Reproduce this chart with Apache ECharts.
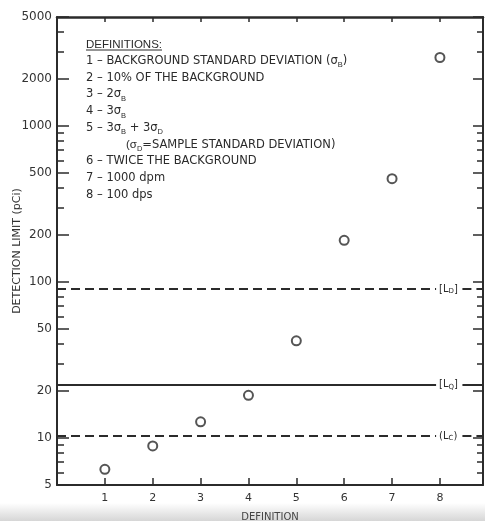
<!DOCTYPE html>
<html>
<head>
<meta charset="utf-8">
<script src="https://cdn.jsdelivr.net/npm/echarts@6/dist/echarts.min.js"></script>
<style>
  html, body { margin: 0; padding: 0; background: #fff; }
  #main { width: 485px; height: 521px; }
</style>
</head>
<body>
<div id="main"></div>
<script>
// values
var definitions = [1, 2, 3, 4, 5, 6, 7, 8];
var detectionLimits = [6.3, 8.9, 12.7, 18.8, 42, 185, 460, 2750];

// horizontal reference levels
var limitLevels = [90, 22, 10.3];
var limitNames = ['[L{s|D}]', '[L{s|Q}]', '(L{s|C})'];
var limitDashed = [true, false, true];

// axis ticks
var xTicks = [1, 2, 3, 4, 5, 6, 7, 8];
var yTickLabels = [5, 10, 20, 50, 100, 200, 500, 1000, 2000, 5000];
var yMinorTicks = [6, 7, 8, 9, 30, 40, 60, 70, 80, 90, 300, 400, 600, 700, 800, 900, 3000, 4000];

var definitionLines = [
    '{u|DEFINITIONS:}',
    '1 \u2013 BACKGROUND STANDARD DEVIATION (\u03c3{s|B})',
    '2 \u2013 10% OF THE BACKGROUND',
    '3 \u2013 2\u03c3{s|B}',
    '4 \u2013 3\u03c3{s|B}',
    '5 \u2013 3\u03c3{s|B} + 3\u03c3{s|D}',
    '{ind|(\u03c3}{s|D}=SAMPLE STANDARD DEVIATION)',
    '6 \u2013 TWICE THE BACKGROUND',
    '7 \u2013 1000 dpm',
    '8 \u2013 100 dps'
];

var ink = '#2b2b2b';
var font = '"DejaVu Sans", sans-serif';
var lg = function (v) { return Math.log10(v); };

var yMin = lg(5), yMax = lg(5000);
var xMin = 0, xMax = 8.9;
var lineStop = 7.92, lineResume = 8.47;

var chart = echarts.init(document.getElementById('main'));

var markData = [];
limitLevels.forEach(function (v, i) {
    var ls = { color: ink, width: 2, type: limitDashed[i] ? [9, 5] : 'solid' };
    markData.push([
        { coord: [xMin, lg(v)], lineStyle: ls,
          label: { show: true, position: 'end', distance: 3, formatter: limitNames[i],
                   color: ink, fontSize: 10, fontFamily: font,
                   rich: { s: { fontSize: 7, verticalAlign: 'bottom', color: ink, padding: [5, 0, 0, 0] } } } },
        { coord: [lineStop, lg(v)] }
    ]);
    markData.push([
        { coord: [lineResume, lg(v)], lineStyle: ls, label: { show: false } },
        { coord: [xMax, lg(v)] }
    ]);
});

function yAxisDef(pos, values, len, line) {
    return {
        type: 'value', position: pos, min: yMin, max: yMax,
        splitLine: { show: false },
        axisLine: { show: line, lineStyle: { color: ink, width: 2 } },
        axisTick: { show: true, inside: true, length: len, customValues: values.map(lg),
                    lineStyle: { color: ink, width: 1.5 } },
        axisLabel: { show: false }
    };
}

var leftMajor = yAxisDef('left', yTickLabels, 12, true);
leftMajor.axisLabel = {
    show: true, customValues: yTickLabels.map(lg), margin: 5,
    color: '#333', fontSize: 12, fontFamily: font,
    formatter: function (v) { return Math.round(Math.pow(10, v)); }
};
leftMajor.name = 'DETECTION LIMIT (pCi)';
leftMajor.nameLocation = 'middle';
leftMajor.nameGap = 34;
leftMajor.nameMoveOverlap = false;
leftMajor.nameTextStyle = { color: '#333', fontSize: 11, fontFamily: font };

var option = {
    backgroundColor: '#fff',
    animation: false,
    grid: { left: 57, right: 2, top: 17, bottom: 36, containLabel: false, outerBoundsMode: 'none' },
    xAxis: [{
        type: 'value', min: xMin, max: xMax, position: 'bottom',
        splitLine: { show: false },
        axisLine: { lineStyle: { color: ink, width: 2 } },
        axisTick: { inside: true, length: 7, customValues: xTicks, lineStyle: { color: ink, width: 1.5 } },
        axisLabel: { customValues: xTicks, margin: 8, color: '#333', fontSize: 11, fontFamily: font },
        name: 'DEFINITION', nameLocation: 'middle', nameGap: 27,
        nameTextStyle: { color: '#444', fontSize: 10, fontFamily: font }
    }, {
        type: 'value', min: xMin, max: xMax, position: 'top',
        splitLine: { show: false },
        axisLine: { lineStyle: { color: ink, width: 2.5 } },
        axisTick: { inside: true, length: 5, customValues: xTicks, lineStyle: { color: ink, width: 1.5 } },
        axisLabel: { show: false }
    }],
    yAxis: [
        leftMajor,
        yAxisDef('left', yMinorTicks, 7, false),
        yAxisDef('right', yTickLabels, 10, true),
        yAxisDef('right', yMinorTicks, 6, false)
    ],
    graphic: [{
        type: 'rect', left: 0, bottom: 0, z: -10, silent: true,
        shape: { width: 485, height: 18 },
        style: { fill: new echarts.graphic.LinearGradient(0, 0, 0, 1, [
            { offset: 0, color: '#ffffff' }, { offset: 1, color: '#d6d6d6' }]) }
    }, {
        type: 'text', left: 86, top: 36, z: 10,
        style: {
            text: definitionLines.join('\n'),
            fill: ink, font: '11.5px ' + font, lineHeight: 16.7,
            rich: {
                s: { fontSize: 7.5, verticalAlign: 'bottom', fill: ink, padding: [5, 0, 0, 0] },
                u: { fontSize: 11.5, fill: ink },
                ind: { fontSize: 11.5, fill: ink, padding: [0, 0, 0, 40] }
            }
        }
    }, {
        type: 'line', z: 10,
        shape: { x1: 86, y1: 50, x2: 162, y2: 50 },
        style: { stroke: ink, lineWidth: 1 }
    }],
    series: [{
        type: 'scatter',
        data: definitions.map(function (d, i) { return [d, lg(detectionLimits[i])]; }),
        symbol: 'circle',
        symbolSize: 9,
        itemStyle: { color: '#fff', borderColor: ink, borderWidth: 2 },
        markLine: { symbol: 'none', silent: true, animation: false, data: markData }
    }]
};

chart.setOption(option);
</script>
</body>
</html>
